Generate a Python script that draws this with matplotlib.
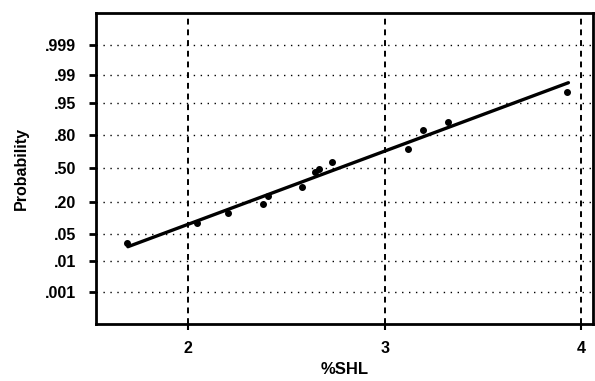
import numpy as np
import matplotlib
matplotlib.use("Agg")
from matplotlib import pyplot as plt
from statistics import NormalDist
import math

# data
shl = [1.690, 2.046, 2.204, 2.382, 2.407, 2.580, 2.646, 2.667, 2.733, 3.120, 3.196, 3.323, 3.929]
prob = [0.031, 0.087, 0.133, 0.187, 0.245, 0.322, 0.465, 0.490, 0.565, 0.690, 0.830, 0.877, 0.972]

# fitted line end points
fit_x = [1.695, 3.934]
fit_p = [0.025, 0.984]

p_ticks = [0.001, 0.01, 0.05, 0.20, 0.50, 0.80, 0.95, 0.99, 0.999]
p_labels = [".001", ".01", ".05", ".20", ".50", ".80", ".95", ".99", ".999"]
x_ticks = [2, 3, 4]

nd = NormalDist()
_ppf = np.vectorize(lambda p: nd.inv_cdf(min(max(p, 1e-12), 1 - 1e-12)), otypes=[float])
_cdf = np.vectorize(lambda z: 0.5 * (1 + math.erf(z / math.sqrt(2))), otypes=[float])

def forward(p):
    return _ppf(np.asarray(p, dtype=float))

def inverse(z):
    return _cdf(np.asarray(z, dtype=float))

plt.rcParams['font.family'] = ['Liberation Sans', 'DejaVu Sans']

fig = plt.figure(figsize=(5.95, 3.81), dpi=100)
ax = fig.add_axes([0.161, 0.150, 0.836, 0.816])

ax.set_yscale('function', functions=(forward, inverse))
ax.set_xlim(1.532, 4.06)
ax.set_ylim(float(inverse(-3.89)), float(inverse(3.89)))

# grid
for p in p_ticks:
    ax.axhline(p, color='black', lw=1.0, ls=(0, (1, 4)), zorder=1)
for x in x_ticks:
    ax.axvline(x, color='black', lw=1.4, ls=(0, (3, 2.5)), zorder=1)

ax.plot(fit_x, fit_p, color='black', lw=2.4, solid_capstyle='round', zorder=3)
ax.plot(shl, prob, 'o', color='black', ms=4, zorder=4)

ax.set_yticks(p_ticks)
ax.set_yticklabels(p_labels)
ax.yaxis.set_minor_locator(matplotlib.ticker.NullLocator())
ax.set_xticks(x_ticks)
ax.set_xticklabels([str(v) for v in x_ticks])

ax.tick_params(axis='y', direction='out', length=5, width=2, pad=9, labelsize=11.5)
ax.tick_params(axis='x', direction='out', length=4, width=1.5, pad=8, labelsize=11.5)
for lab in ax.get_xticklabels() + ax.get_yticklabels():
    lab.set_fontweight('bold')

for s in ax.spines.values():
    s.set_linewidth(2.0)

ax.set_ylabel("Probability", fontsize=11.5, fontweight='bold', labelpad=12)
ax.set_xlabel("%SHL", fontsize=12, fontweight='bold', labelpad=5)

fig.savefig("out.png", dpi=100)
